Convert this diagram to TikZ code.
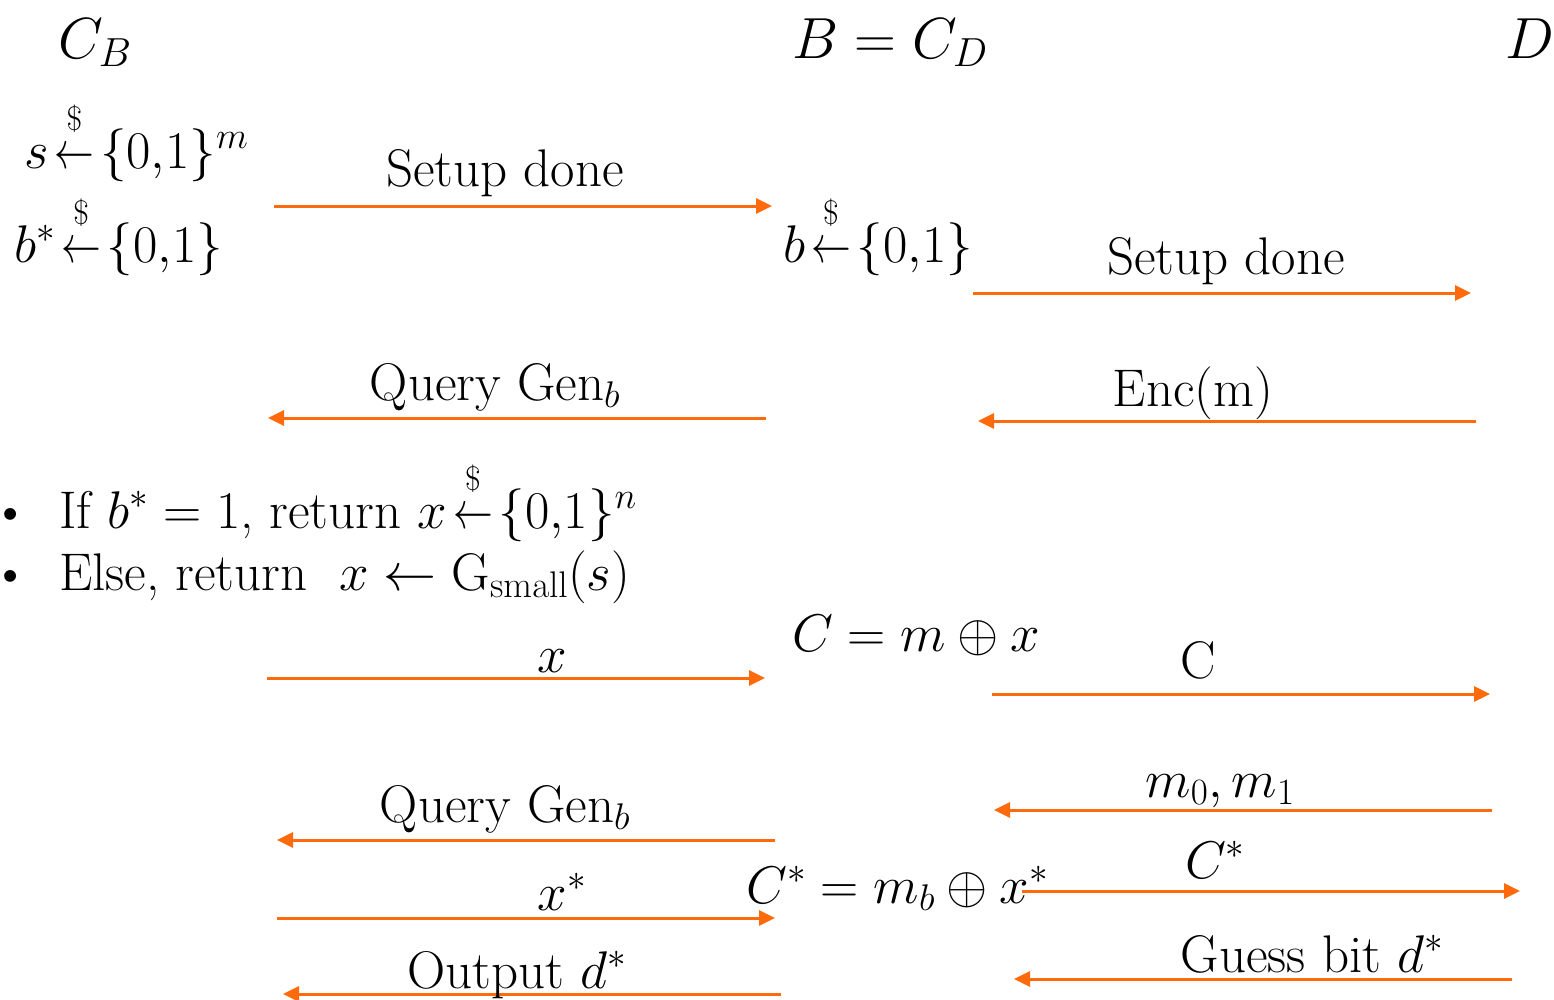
\RequirePackage{fix-cm}
\documentclass[tikz,border=0pt]{standalone}
\usepackage{amsmath}
\usepackage{graphicx}
\usetikzlibrary{arrows.meta}
\definecolor{arrcol}{RGB}{255,106,13}
\newcommand{\samp}{\mathrel{\vbox{\offinterlineskip\halign{\hfil##\hfil\cr{\fontsize{34}{34}\selectfont\$}\cr\noalign{\kern16pt}\scalebox{0.75}[1]{$\leftarrow$}\cr}}}}
\begin{document}
\begin{tikzpicture}[x=1pt,y=-1pt,
  txt/.style={inner sep=0pt,font=\fontsize{53}{62}\selectfont},
  head/.style={inner sep=0pt,font=\fontsize{58}{68}\selectfont},
  msg/.style={draw=arrcol,line width=3pt,-{Triangle[length=16pt,width=15pt]}}]
\useasboundingbox (0,0) rectangle (1554,999);
% party headers
\node[head,anchor=base] (cb) at (95,58) {$C_B$};
\node[head,anchor=base] (bcd) at (890,58) {$B = C_D$};
\node[head,anchor=base] (d) at (1530,58) {$D$};
% local computations
\node[txt,anchor=base west] (s) at (24,168) {$s\mskip-3mu\samp\mskip-3mu\{0{,}1\}^m$};
\node[txt,anchor=base west] (bs) at (14,262) {$b^*\mskip-3mu\samp\mskip-3mu\{0{,}1\}$};
\node[txt,anchor=base west] (b) at (783,262) {$b\mskip-3mu\samp\mskip-3mu\{0{,}1\}$};
\node[txt,anchor=base west] (if) at (-9,528) {\textbullet\hspace{30pt}If $b^* = 1$, return $x\mskip-3mu\samp\mskip-3mu\{0{,}1\}^n$};
\node[txt,anchor=base west] (else) at (-9,590) {\textbullet\hspace{30pt}Else, return \ $x \leftarrow \mathrm{G}_{\mathrm{small}}(s)$};
\node[txt,anchor=base west] (c) at (792,651) {$C = m \oplus x$};
\node[txt,anchor=base west] (cs) at (746,903) {$C^* = m_b \oplus x^*$};
% arrow endpoints
\coordinate (a1s) at (274,206); \coordinate (a1e) at (772,206);
\coordinate (a2s) at (973,293); \coordinate (a2e) at (1471,293);
\coordinate (a3s) at (766,418); \coordinate (a3e) at (268,418);
\coordinate (a4s) at (1476,421); \coordinate (a4e) at (978,421);
\coordinate (a5s) at (267,678); \coordinate (a5e) at (765,678);
\coordinate (a6s) at (992,694); \coordinate (a6e) at (1490,694);
\coordinate (a7s) at (1492,810); \coordinate (a7e) at (994,810);
\coordinate (a8s) at (775,840); \coordinate (a8e) at (277,840);
\coordinate (a9s) at (1022,891); \coordinate (a9e) at (1520,891);
\coordinate (a10s) at (277,918); \coordinate (a10e) at (775,918);
\coordinate (a11s) at (781,994); \coordinate (a11e) at (283,994);
\coordinate (a12s) at (1512,979); \coordinate (a12e) at (1014,979);
\draw[msg] (a1s) -- (a1e);
\draw[msg] (a2s) -- (a2e);
\draw[msg] (a3s) -- (a3e);
\draw[msg] (a4s) -- (a4e);
\draw[msg] (a5s) -- (a5e);
\draw[msg] (a6s) -- (a6e);
\draw[msg] (a7s) -- (a7e);
\draw[msg] (a8s) -- (a8e);
\draw[msg] (a9s) -- (a9e);
\draw[msg] (a10s) -- (a10e);
\draw[msg] (a11s) -- (a11e);
\draw[msg] (a12s) -- (a12e);
% labels
\node[txt,anchor=base] (l1) at (505,186) {Setup done};
\node[txt,anchor=base] (l2) at (1226,274) {Setup done};
\node[txt,anchor=base] (l3) at (495,400) {Query Gen$_b$};
\node[txt,anchor=base] (l4) at (1193,406) {Enc(m)};
\node[txt,anchor=base] (l5) at (552,672) {$x$};
\node[txt,anchor=base] (l6) at (1198,678) {C};
\node[txt,anchor=base] (l7) at (1220,797) {$m_0, m_1$};
\node[txt,anchor=base] (l8) at (505,822) {Query Gen$_b$};
\node[txt,anchor=base] (l9) at (1215,878) {$C^*$};
\node[txt,anchor=base] (l10) at (562,910) {$x^*$};
\node[txt,anchor=base] (l11) at (517,988) {Output $d^*$};
\node[txt,anchor=base] (l12) at (1312,972) {Guess bit $d^*$};
\end{tikzpicture}
\end{document}
